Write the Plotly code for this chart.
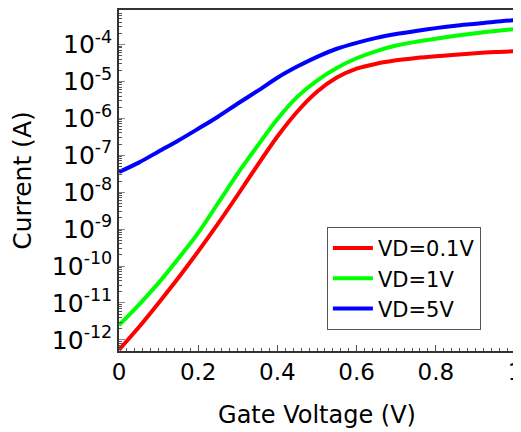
import plotly.graph_objects as go

gate_voltage = [0.0, 0.05, 0.1, 0.15, 0.2, 0.25, 0.3, 0.35, 0.4, 0.45, 0.5,
                0.55, 0.6, 0.65, 0.7, 0.75, 0.8, 0.85, 0.9, 0.95, 1.0]

current_vd_01 = [5.4e-13, 2.2e-12, 1.0e-11, 4.8e-11, 2.5e-10, 1.4e-9, 8.5e-9,
                 5.4e-8, 3.2e-7, 1.5e-6, 5.2e-6, 1.26e-5, 2.2e-5, 3.0e-5, 3.7e-5,
                 4.3e-5, 4.8e-5, 5.2e-5, 5.75e-5, 6.2e-5, 6.5e-5]

current_vd_1 = [2.5e-12, 8.9e-12, 3.5e-11, 1.6e-10, 7.9e-10, 5.0e-9, 3.2e-8,
                1.8e-7, 9.5e-7, 3.8e-6, 1.05e-5, 2.3e-5, 4.2e-5, 6.6e-5, 9.3e-5,
                1.17e-4, 1.42e-4, 1.7e-4, 2.0e-4, 2.3e-4, 2.6e-4]

current_vd_5 = [3.5e-8, 6.3e-8, 1.26e-7, 2.5e-7, 5.2e-7, 1.1e-6, 2.5e-6,
                5.5e-6, 1.25e-5, 2.5e-5, 4.6e-5, 7.6e-5, 1.1e-4, 1.5e-4, 1.9e-4,
                2.3e-4, 2.75e-4, 3.2e-4, 3.6e-4, 4.1e-4, 4.5e-4]

series_names = ["VD=0.1V", "VD=1V", "VD=5V"]
series_colors = ["#ff0000", "#00ff00", "#0000ff"]

y_tick_vals = [1e-12, 1e-11, 1e-10, 1e-9, 1e-8, 1e-7, 1e-6, 1e-5, 1e-4]
y_tick_text = ["10<sup>-12</sup>", "10<sup>-11</sup>", "10<sup>-10</sup>",
               "10<sup>-9</sup>", "10<sup>-8</sup>", "10<sup>-7</sup>",
               "10<sup>-6</sup>", "10<sup>-5</sup>", "10<sup>-4</sup>"]
x_tick_vals = [0, 0.2, 0.4, 0.6, 0.8, 1]
x_tick_text = ["0", "0.2", "0.4", "0.6", "0.8", "1"]

FONT = "DejaVu Sans"

fig = go.Figure()
for name, color, ys in zip(series_names, series_colors,
                           [current_vd_01, current_vd_1, current_vd_5]):
    fig.add_trace(go.Scatter(x=gate_voltage, y=ys, mode="lines", name=name,
                             line=dict(color=color, width=4, shape="spline",
                                       smoothing=0.8)))

# page body has an 8px default margin: size the figure so the plot area
# lands where the reference has it inside the 521x432 window
fig.update_layout(
    width=521, height=424,
    margin=dict(l=111, r=14, t=2, b=81),
    paper_bgcolor="white", plot_bgcolor="white",
    font=dict(family=FONT, color="black"),
    legend=dict(x=0.525, y=0.062, xanchor="left", yanchor="bottom",
                bordercolor="#555555", borderwidth=1, bgcolor="white",
                font=dict(size=21, family=FONT), tracegroupgap=0,
                itemwidth=40),
    showlegend=True,
)

fig.update_xaxes(
    range=[0, 1], tickvals=x_tick_vals, ticktext=x_tick_text,
    ticks="inside", ticklen=6, tickcolor="#555555", tickwidth=1,
    minor=dict(ticks="inside", dtick=0.02, ticklen=3, tickcolor="#555555"),
    showline=True, linecolor="#333333", linewidth=1.5, mirror=True,
    showgrid=False, zeroline=False, automargin=False,
    ticklabeloverflow="allow",
    tickfont=dict(size=23, family=FONT),
    title=dict(text="Gate Voltage (V)", font=dict(size=24, family=FONT), standoff=22),
)
fig.update_yaxes(
    type="log", range=[-12.30, -3.07], tickvals=y_tick_vals, ticktext=y_tick_text,
    ticks="inside", ticklen=6, tickcolor="#888888", tickwidth=1,
    minor=dict(ticks="inside", dtick="D1", ticklen=3, tickcolor="#555555"),
    showline=True, linecolor="#333333", linewidth=1.5, mirror=True,
    showgrid=False, zeroline=False, automargin=False,
    tickfont=dict(size=25, family=FONT),
    title=dict(text="Current (A)", font=dict(size=25, family=FONT), standoff=16),
)

fig.write_html("out.html")
